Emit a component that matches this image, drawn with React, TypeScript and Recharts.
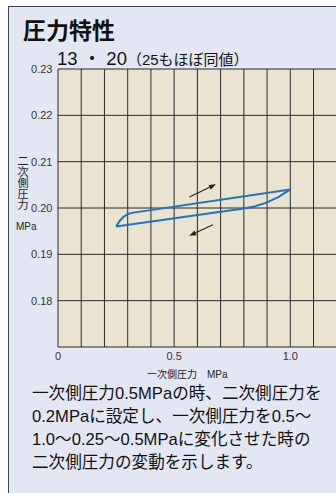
import React from "react";
import { LineChart, Line, XAxis, YAxis, CartesianGrid, ReferenceLine } from "recharts";

const FONT = "'Liberation Sans', 'Noto Sans CJK JP', sans-serif";

// hysteresis loop: up along the top branch, back along the bottom one
const loopX = [0.25, 0.265, 0.282, 0.3, 0.325, 1.0, 0.95, 0.9, 0.85, 0.8, 0.25];
const loopY = [0.196, 0.1972, 0.1981, 0.1987, 0.199, 0.204, 0.2024, 0.2012, 0.2004, 0.1999, 0.196];

const xTicks = [0, 0.1, 0.2, 0.3, 0.4, 0.5, 0.6, 0.7, 0.8, 0.9, 1.0, 1.1, 1.2, 1.3];
const xLabels: Record<string, string> = { "0": "0", "0.5": "0.5", "1": "1.0" };
const yTicks = [0.17, 0.18, 0.19, 0.2, 0.21, 0.22, 0.23];

// direction arrows [x1, y1, x2, y2]
const arrows = [
  [0.566, 0.2024, 0.68, 0.2051],
  [0.667, 0.1964, 0.565, 0.194],
];

const loopData = loopX.map((x, i) => ({ x, y: loopY[i] }));

const textLines = [
  "一次側圧力0.5MPaの時、二次側圧力を",
  "0.2MPaに設定し、一次側圧力を0.5〜",
  "1.0〜0.25〜0.5MPaに変化させた時の",
  "二次側圧力の変動を示します。",
];

function Arrow(props: any) {
  const { x1, y1, x2, y2 } = props;
  const a = Math.atan2(y2 - y1, x2 - x1);
  const len = 7;
  const w = 2.6;
  const bx = x2 - len * Math.cos(a);
  const by = y2 - len * Math.sin(a);
  const px = -Math.sin(a) * w;
  const py = Math.cos(a) * w;
  return (
    <g>
      <line x1={x1} y1={y1} x2={bx} y2={by} stroke="#222" strokeWidth={1.1} />
      <polygon points={`${x2},${y2} ${bx + px},${by + py} ${bx - px},${by - py}`} fill="#222" />
    </g>
  );
}

export default function App() {
  return (
    <div style={{ position: "fixed", left: 0, top: 0, width: 336, height: 493, overflow: "hidden", background: "#fff", fontFamily: FONT }}>
      <div
        style={{
          position: "absolute",
          left: 8,
          top: 6,
          width: 400,
          height: 560,
          background: "#e3e7f4",
          borderLeft: "1px solid #444",
          borderTop: "1px solid #444",
        }}
      />
      <div style={{ position: "absolute", left: 23, top: 16, fontSize: 23, fontWeight: "bold", color: "#111", lineHeight: "30px" }}>
        圧力特性
      </div>
      <div style={{ position: "absolute", left: 57, top: 47, color: "#111", lineHeight: "24px", whiteSpace: "pre" }}>
        <span style={{ fontSize: 18.5 }}>{"13 ・ 20"}</span>
        <span style={{ fontSize: 15 }}>（25もほぼ同値）</span>
      </div>

      <div style={{ position: "absolute", left: 0, top: 0 }}>
        <LineChart width={362} height={380} data={loopData} margin={{ top: 69, right: 2, bottom: 0, left: 8 }}>
          <CartesianGrid stroke="#2a2a2a" fill="#e9e3d0" fillOpacity={1} strokeWidth={1} />
          <XAxis
            dataKey="x"
            type="number"
            domain={[0, 1.3]}
            ticks={xTicks}
            tickFormatter={(v: number) => xLabels[String(v)] ?? ""}
            axisLine={false}
            tickLine={false}
            tickSize={3}
            tickMargin={2}
            height={33}
            interval={0}
            tick={{ fontSize: 11, fill: "#333", fontFamily: FONT }}
          />
          <YAxis
            type="number"
            domain={[0.17, 0.23]}
            ticks={yTicks}
            tickFormatter={(v: number) => (v === 0.17 ? "" : v.toFixed(2))}
            axisLine={false}
            tickLine={false}
            tickSize={4}
            tickMargin={1.5}
            width={50}
            interval={0}
            tick={{ fontSize: 11, fill: "#333", fontFamily: FONT }}
          />
          {arrows.map((a, i) => (
            <ReferenceLine
              key={i}
              segment={[
                { x: a[0], y: a[1] },
                { x: a[2], y: a[3] },
              ]}
              shape={(p: any) => <Arrow {...p} />}
            />
          ))}
          <Line
            dataKey="y"
            type="linear"
            stroke="#1f73c2"
            strokeWidth={2}
            dot={false}
            isAnimationActive={false}
            strokeLinejoin="round"
          />
        </LineChart>
      </div>

      <div style={{ position: "absolute", left: 17, top: 156, width: 12, fontSize: 11, lineHeight: "11px", color: "#222", textAlign: "center" }}>
        {"二次側圧力".split("").map((c) => (
          <div key={c}>{c}</div>
        ))}
      </div>
      <div style={{ position: "absolute", left: 16, top: 221, fontSize: 10, color: "#222" }}>MPa</div>
      <div style={{ position: "absolute", left: 147, top: 366, fontSize: 10, color: "#222", whiteSpace: "nowrap" }}>
        一次側圧力　MPa
      </div>

      <div style={{ position: "absolute", left: 32, top: 382, fontSize: 16.6, lineHeight: "23px", color: "#111", whiteSpace: "nowrap" }}>
        {textLines.map((t) => (
          <div key={t}>{t}</div>
        ))}
      </div>
    </div>
  );
}
